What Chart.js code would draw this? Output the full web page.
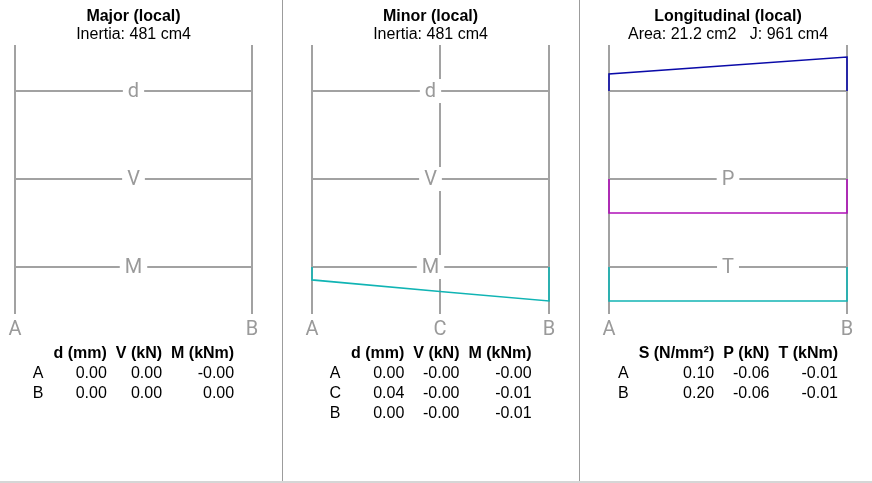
<!DOCTYPE html>
<html>
<head>
<meta charset="utf-8">
<script src="https://cdn.jsdelivr.net/npm/chart.js@4/dist/chart.umd.min.js"></script>
<style>
  html, body { margin: 0; padding: 0; background: #fff; }
  #wrap { position: relative; width: 872px; height: 483px; overflow: hidden; }
  .panel { position: absolute; top: 0; }
  .sep { position: absolute; top: 0; width: 1px; height: 483px; background: #9c9c9c; }
  .floor { position: absolute; left: 0; top: 481px; width: 872px; height: 2px; background: #d6d6d6; }
</style>
</head>
<body>
<div id="wrap">
  <canvas id="c1" class="panel" width="282" height="483" style="left:0px"></canvas>
  <div class="sep" style="left:282px"></div>
  <canvas id="c2" class="panel" width="296" height="483" style="left:283px"></canvas>
  <div class="sep" style="left:579px"></div>
  <canvas id="c3" class="panel" width="292" height="483" style="left:580px"></canvas>
  <div class="floor"></div>
</div>
<script>
// Member stations (position as a fraction of length) and their labels
const majorStations = ['A', 'B'];
const majorPos = [0, 1];
const majorD = [0.00, 0.00];        // mm
const majorV = [0.00, 0.00];        // kN
const majorM = [-0.0001, 0.0001];   // kNm

const minorStations = ['A', 'C', 'B'];
const minorPos = [0, 0.54, 1];
const minorD = [0.00, 0.04, 0.00];          // mm
const minorV = [-0.0004, -0.0004, -0.0004]; // kN
const minorM = [-0.0038, -0.0072, -0.0100]; // kNm

const longStations = ['A', 'B'];
const longPos = [0, 1];
const longS = [0.10, 0.20];   // N/mm²
const longP = [-0.06, -0.06]; // kN
const longT = [-0.01, -0.01]; // kNm

const TEXT_FONT = '"Liberation Sans", Arial, sans-serif';
const MARK_FONT = 'Roboto, "Liberation Sans", sans-serif';
const LINE_GREY = '#a2a2a2';
const MARK_GREY = '#9a9a9a';

const panels = [
  {
    canvas: 'c1', padL: 15, padR: 30,
    title: 'Major (local)', subtitle: 'Inertia: 481 cm4',
    stations: majorStations, pos: majorPos,
    rowLabels: ['d', 'V', 'M'],
    diagrams: [],
    columns: [
      { head: 'd (mm)', values: majorD },
      { head: 'V (kN)', values: majorV },
      { head: 'M (kNm)', values: majorM }
    ]
  },
  {
    canvas: 'c2', padL: 29, padR: 30,
    title: 'Minor (local)', subtitle: 'Inertia: 481 cm4',
    stations: minorStations, pos: minorPos,
    rowLabels: ['d', 'V', 'M'],
    diagrams: [ { row: 2, values: minorM, color: '#10b4b4' } ],
    columns: [
      { head: 'd (mm)', values: minorD },
      { head: 'V (kN)', values: minorV },
      { head: 'M (kNm)', values: minorM }
    ]
  },
  {
    canvas: 'c3', padL: 29, padR: 25,
    title: 'Longitudinal (local)', subtitle: 'Area: 21.2 cm2   J: 961 cm4',
    stations: longStations, pos: longPos,
    rowLabels: ['', 'P', 'T'],
    diagrams: [
      { row: 0, values: longS, color: '#0a0aa8' },
      { row: 1, values: longP, color: '#b010b8' },
      { row: 2, values: longT, color: '#12b4b4' }
    ],
    columns: [
      { head: 'S (N/mm\u00B2)', values: longS },
      { head: 'P (kN)', values: longP },
      { head: 'T (kNm)', values: longT }
    ]
  }
];

const DIAGRAM_DEPTH = 0.386; // largest ordinate, in row spacings

function fmt(v) { return v.toFixed(2); }

function buildChart(p) {
  const last = p.pos.length - 1;
  const datasets = p.diagrams.map(dg => {
    const peak = Math.max(...dg.values.map(Math.abs));
    const base = -dg.row;
    const pts = [{ x: p.pos[0], y: base }];
    dg.values.forEach((v, i) => pts.push({ x: p.pos[i], y: base + v / peak * DIAGRAM_DEPTH }));
    pts.push({ x: p.pos[last], y: base });
    return {
      data: pts, borderColor: dg.color, borderWidth: 1.6, clip: false,
      pointRadius: 0, pointHoverRadius: 0, fill: false, tension: 0
    };
  });

  // Row baselines with their letters, drawn over the station lines
  const rowsPlugin = {
    id: 'beamRows',
    beforeDatasetsDraw(chart) {
      const { ctx, scales: { x, y } } = chart;
      const x0 = x.getPixelForValue(0), x1 = x.getPixelForValue(1);
      const cx = (x0 + x1) / 2;
      ctx.save();
      p.rowLabels.forEach((lab, r) => {
        const yp = y.getPixelForValue(-r);
        ctx.strokeStyle = LINE_GREY;
        ctx.lineWidth = 2;
        ctx.beginPath();
        ctx.moveTo(x0, yp);
        ctx.lineTo(x1, yp);
        ctx.stroke();
        if (lab) {
          ctx.font = '20px ' + MARK_FONT;
          const w = ctx.measureText(lab).width;
          ctx.fillStyle = '#fff';
          ctx.fillRect(cx - w / 2 - 5, yp - 12, w + 10, 24);
          ctx.fillStyle = MARK_GREY;
          ctx.textAlign = 'center';
          ctx.textBaseline = 'middle';
          ctx.fillText(lab, cx, yp + 1);
        }
      });
      ctx.restore();
    }
  };

  // Result table under the member
  const tablePlugin = {
    id: 'beamTable',
    afterDraw(chart) {
      const { ctx, chartArea, scales: { x } } = chart;
      const cx = (x.getPixelForValue(0) + x.getPixelForValue(1)) / 2;
      ctx.save();
      ctx.font = 'bold 16px ' + TEXT_FONT;
      const headW = p.columns.map(c => ctx.measureText(c.head).width);
      ctx.font = '16px ' + TEXT_FONT;
      const colW = p.columns.map((c, i) =>
        Math.max(headW[i], ...c.values.map(v => ctx.measureText(fmt(v)).width)));
      const labW = Math.max(...p.stations.map(s => ctx.measureText(s).width));
      const gap = 9, labGap = 10;
      const total = labW + labGap + colW.reduce((a, b) => a + b, 0) + gap * (colW.length - 1);
      const left = cx - total / 2;
      const rights = [];
      let acc = left + labW + labGap;
      colW.forEach(w => { acc += w; rights.push(acc); acc += gap; });

      const top = chartArea.bottom + 40;
      ctx.fillStyle = '#000';
      ctx.textBaseline = 'middle';
      ctx.textAlign = 'right';
      ctx.font = 'bold 16px ' + TEXT_FONT;
      p.columns.forEach((c, i) => ctx.fillText(c.head, rights[i], top));
      ctx.font = '16px ' + TEXT_FONT;
      p.stations.forEach((s, r) => {
        const yy = top + 20 * (r + 1);
        ctx.textAlign = 'center';
        ctx.fillText(s, left + labW / 2, yy);
        ctx.textAlign = 'right';
        p.columns.forEach((c, i) => ctx.fillText(fmt(c.values[r]), rights[i], yy));
      });
      ctx.restore();
    }
  };

  return new Chart(document.getElementById(p.canvas), {
    type: 'line',
    data: { datasets },
    plugins: [rowsPlugin, tablePlugin],
    options: {
      responsive: false,
      animation: false,
      events: [],
      layout: { padding: { left: p.padL, right: p.padR, top: 0, bottom: 139 } },
      plugins: {
        legend: { display: false },
        tooltip: { enabled: false },
        title: {
          display: true, text: p.title, color: '#000',
          font: { family: TEXT_FONT, size: 16, weight: 'bold', lineHeight: 1.15 },
          padding: { top: 7, bottom: 0 }
        },
        subtitle: {
          display: true, text: p.subtitle, color: '#000',
          font: { family: TEXT_FONT, size: 16, weight: 'normal', lineHeight: 1.15 },
          padding: { top: 0, bottom: 1.2 }
        }
      },
      scales: {
        x: {
          type: 'linear', position: 'bottom', min: 0, max: 1,
          afterBuildTicks: s => { s.ticks = p.pos.map(v => ({ value: v })); },
          afterFit: s => { s.height = 30; },
          ticks: {
            autoSkip: false, maxRotation: 0, padding: 4, color: MARK_GREY,
            font: { family: MARK_FONT, size: 20 },
            callback: (v, i) => p.stations[i]
          },
          grid: { color: LINE_GREY, lineWidth: 2, drawTicks: false },
          border: { display: false }
        },
        y: { display: false, min: -2.534, max: 0.523 }
      }
    }
  });
}

panels.forEach(buildChart);
</script>
</body>
</html>
